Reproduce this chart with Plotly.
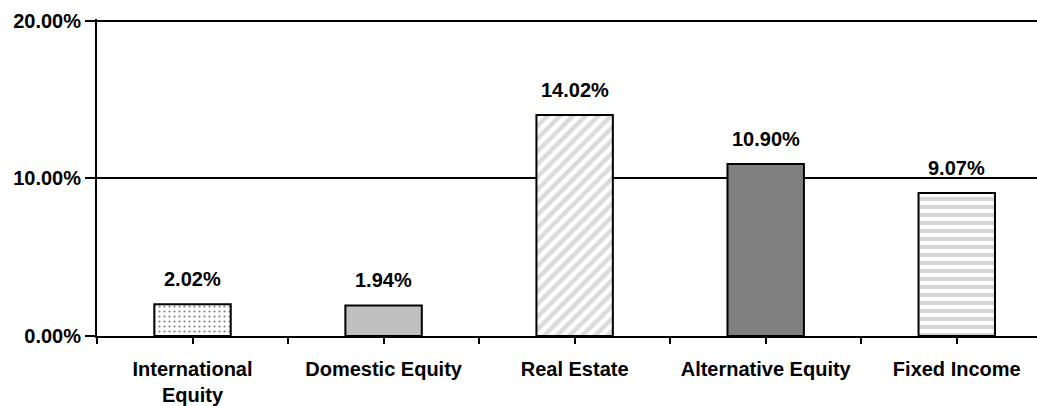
import plotly.graph_objects as go

categories = ["International<br>Equity", "Domestic Equity", "Real Estate", "Alternative Equity", "Fixed Income"]
values = [2.02, 1.94, 14.02, 10.90, 9.07]
value_labels = ["2.02%", "1.94%", "14.02%", "10.90%", "9.07%"]
y_ticks = [0, 10, 20]
y_tick_labels = ["0.00%", "10.00%", "20.00%"]

pattern_shapes = [".", "", "/", "", "-"]
pattern_fg = ["#000000", "#C0C0C0", "#B8B8B8", "#808080", "#ADADAD"]
bar_colors = ["#FFFFFF", "#C0C0C0", "#FFFFFF", "#808080", "#FFFFFF"]
pattern_sizes = [5, 8, 9, 8, 8]
pattern_solidity = [0.15, 0.3, 0.5, 0.3, 0.5]

FONT = "Liberation Sans, Arial, sans-serif"
n = len(categories)

fig = go.Figure()
for i in range(n):
    pat = dict(shape=pattern_shapes[i], fgcolor=pattern_fg[i], bgcolor=bar_colors[i],
               size=pattern_sizes[i], solidity=pattern_solidity[i], fillmode="overlay")
    fig.add_trace(go.Bar(
        x=[i], y=[values[i]], width=0.4,
        marker=dict(color=bar_colors[i], line=dict(color="black", width=2),
                    pattern=pat if pattern_shapes[i] else None),
        hoverinfo="skip",
    ))

for i, (v, t) in enumerate(zip(values, value_labels)):
    fig.add_annotation(x=i, y=v, text=t, showarrow=False, yanchor="bottom", yshift=12,
                       font=dict(family=FONT, size=20, color="black", weight="bold"))

tickvals = []
ticktext = []
for i in range(n):
    tickvals += [i - 0.5, i]
    ticktext += ["", categories[i]]
tickvals.append(n - 0.5)
ticktext.append("")

fig.update_layout(
    width=1037, height=406,
    margin=dict(l=97, r=0, t=19, b=67),
    paper_bgcolor="white", plot_bgcolor="white",
    showlegend=False,
    barmode="overlay",
    font=dict(family=FONT, size=20, color="black", weight="bold"),
    xaxis=dict(range=[-0.5, 4.42], tickvals=tickvals, ticktext=ticktext,
               showline=True, linecolor="black", linewidth=2,
               ticks="outside", ticklen=6, tickwidth=2, tickcolor="black",
               showgrid=False, zeroline=False, ticklabelstandoff=8,
               tickfont=dict(family=FONT, size=20, weight="bold")),
    yaxis=dict(range=[0, 20.1], tickvals=y_ticks, ticktext=y_tick_labels,
               showline=True, linecolor="black", linewidth=2,
               ticks="outside", ticklen=10, tickwidth=2, tickcolor="black",
               showgrid=True, gridcolor="black", gridwidth=2, zeroline=False,
               tickfont=dict(family=FONT, size=20, weight="bold")),
)

fig.write_html("out.html")
